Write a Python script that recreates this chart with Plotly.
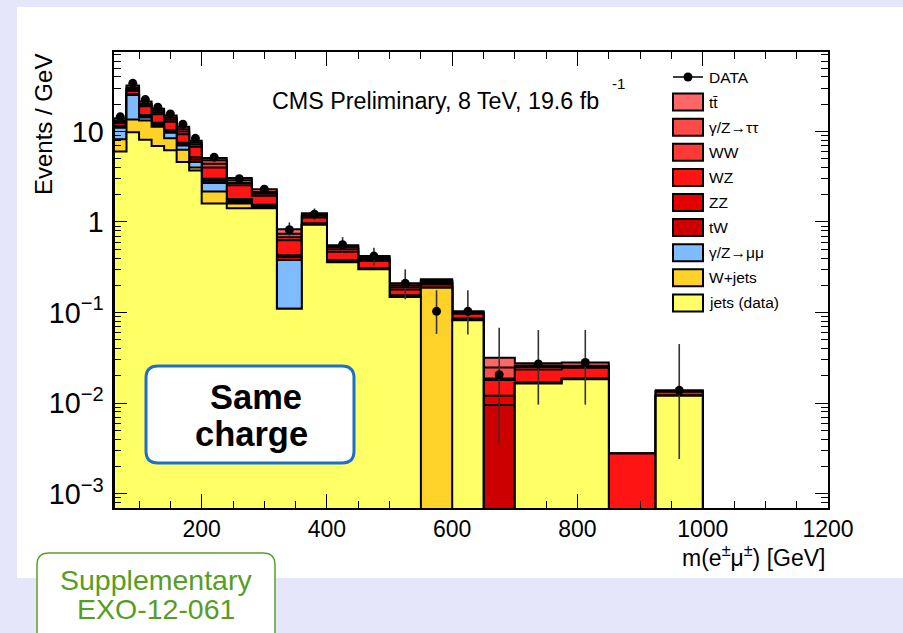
import numpy as np
import plotly.graph_objects as go

# ---------------- data ----------------
edges = [60, 80, 100, 120, 140, 160, 180, 200, 240, 280, 320, 360, 400,
         450, 500, 550, 600, 650, 700, 775, 850, 925, 1000]

# stack components (Events / GeV), bottom -> top
jets_data = [6.0, 9.8, 8.1, 6.9, 6.2, 4.6, 3.7, 1.6, 1.42, 1.42, 0.11, 0.93, 0.36, 0.30,
             0.148, 0, 0.082, 0, 0.0164, 0.0183, 0, 0.0120]
wjets = [2.2, 3.8, 5.1, 4.4, 2.2, 1.7, 0.3, 0.57, 0.18, 0, 0, 0, 0, 0,
         0, 0.188, 0, 0, 0, 0, 0, 0]
dy_mumu = [2.8, 11.7, 1.1, 0.3, 1.3, 0.7, 0.6, 0.53, 0.03, 0.03, 0.27, 0, 0.005, 0,
           0.002, 0, 0, 0, 0, 0, 0, 0]
tw = [0.3, 0.3, 0.5, 0.4, 0.3, 0.3, 0.3, 0.15, 0.07, 0.05, 0.03, 0.02, 0.005, 0.005,
      0.002, 0.017, 0.002, 0.0095, 0.0002, 0.0002, 0, 0]
zz = [0.2, 0.2, 0.4, 0.5, 0.3, 0.2, 0.3, 0.15, 0.1, 0.05, 0.02, 0.02, 0.01, 0.005,
      0.003, 0.005, 0.002, 0.0025, 0.0002, 0.0002, 0, 0]
wz = [0.8, 2.2, 3.8, 3.0, 2.5, 1.8, 1.6, 1.0, 0.75, 0.4, 0.2, 0.15, 0.09, 0.06,
      0.025, 0.005, 0.011, 0.006, 0.0067, 0.0058, 0.00276, 0.0013]
ww = [0.5, 1.5, 0.5, 0.7, 0.7, 0.7, 0.4, 0.4, 0.15, 0.1, 0.05, 0.05, 0.03, 0.02,
      0.01, 0.005, 0.002, 0.0006, 0.0015, 0.0005, 0, 0.0002]
dy_tautau = [0.4, 1.0, 0.8, 0.7, 0.7, 0.6, 0.3, 0.4, 0.2, 0.1, 0.06, 0.04, 0.03, 0.015,
             0.01, 0.005, 0.002, 0.0061, 0.001, 0.0008, 0, 0.0001]
ttbar = [0.8, 1.8, 1.2, 0.9, 0.8, 0.7, 0.4, 0.3, 0.16, 0.15, 0.09, 0.04, 0.025, 0.015,
         0.01, 0.008, 0.002, 0.0069, 0.0015, 0.0022, 0, 0.0002]

data = [14.5, 34.0, 22.5, 18.5, 15.6, 12.0, 8.4, 5.2, 3.0, 2.3, 0.82, 1.22, 0.56, 0.42,
        0.21, 0.103, 0.103, 0.0205, 0.027, 0.028, None, 0.0138]
data_err_lo = [0.84, 1.3, 1.05, 0.95, 0.87, 0.76, 0.64, 0.36, 0.27, 0.24, 0.13, 0.17, 0.10,
               0.09, 0.07, 0.045, 0.046, 0.017, 0.0174, 0.0184, None, 0.0114]
data_err_hi = [0.87, 1.3, 1.08, 0.98, 0.9, 0.79, 0.67, 0.37, 0.28, 0.25, 0.17, 0.19, 0.12,
               0.10, 0.09, 0.073, 0.073, 0.0475, 0.037, 0.036, None, 0.031]

stack_names = ["jets (data)", "W+jets", "γ/Z→μμ", "tW", "ZZ", "WZ", "WW", "γ/Z→ττ", "tt\u0304"]
stack_values = [jets_data, wjets, dy_mumu, tw, zz, wz, ww, dy_tautau, ttbar]
stack_colors = ["#ffff66", "#ffd22a", "#7fbcff", "#cc0000", "#e60000",
                "#ff1414", "#ff3838", "#ff4a4a", "#ff6666"]

# ---------------- geometry helpers (pixel -> paper) ----------------
X0, X1, Y0, Y1 = 114, 828, 52, 508
def px(x):
    return (x - X0) / (X1 - X0)
def py(y):
    return (Y1 - y) / (Y1 - Y0)

FLOOR = 1e-9

def step_polygon(vals):
    xs, ys = [edges[0]], [FLOOR]
    for i, v in enumerate(vals):
        v = v if v > 0 else FLOOR
        xs += [edges[i], edges[i + 1]]
        ys += [v, v]
    xs.append(edges[-1]); ys.append(FLOOR)
    return xs, ys

fig = go.Figure()

cum = np.cumsum(np.array(stack_values, dtype=float), axis=0)
for k in range(len(stack_values) - 1, -1, -1):
    xs, ys = step_polygon(cum[k])
    fig.add_trace(go.Scatter(x=xs, y=ys, mode="lines", fill="toself",
                             fillcolor=stack_colors[k],
                             line=dict(color="black", width=2),
                             hoverinfo="skip", name=stack_names[k]))

centers = [(edges[i] + edges[i + 1]) / 2 for i in range(len(edges) - 1)]
fig.add_trace(go.Scatter(
    x=centers, y=data, mode="markers",
    marker=dict(color="black", size=9, symbol="circle"),
    error_y=dict(type="data", symmetric=False, array=data_err_hi, arrayminus=data_err_lo,
                 color="#333333", thickness=1.6, width=0),
    name="DATA"))

FONT = "Liberation Sans, Arial, Helvetica, sans-serif"

fig.update_layout(
    width=903, height=633,
    margin=dict(l=X0, r=903 - X1, t=Y0, b=633 - Y1),
    paper_bgcolor="#e6e6fa", plot_bgcolor="white",
    showlegend=False,
    font=dict(family=FONT, size=23, color="black"),
)
fig.update_xaxes(
    range=[60, 1200], tickmode="linear", tick0=0, dtick=200,
    ticks="inside", ticklen=14, tickwidth=1.2, tickcolor="black",
    showline=True, linecolor="black", linewidth=1.5, mirror="allticks",
    showgrid=False, zeroline=False, ticklabelstandoff=0,
    tickfont=dict(size=23, family=FONT),
    minor=dict(ticks="inside", ticklen=7, tickwidth=1, tick0=0, dtick=50,
               tickcolor="black", showgrid=False),
)
fig.update_yaxes(
    type="log", range=[-3.16, 1.878], tickmode="linear", tick0=0, dtick=1,
    exponentformat="power",
    ticks="inside", ticklen=13, tickwidth=1.2, tickcolor="black",
    showline=True, linecolor="black", linewidth=1.5, mirror="allticks",
    showgrid=False, zeroline=False, ticklabelstandoff=4,
    tickfont=dict(size=23, family=FONT),
    minor=dict(ticks="inside", ticklen=7, tickwidth=1, dtick="D1",
               tickcolor="black", showgrid=False),
)

shapes = []
annotations = []

# white panel
shapes.append(dict(type="rect", xref="paper", yref="paper", layer="below",
                   x0=px(17), x1=px(910), y0=py(578), y1=py(7),
                   fillcolor="white", line=dict(width=0)))

def rrect_path(x0, y0, x1, y1, r):
    rx = r / (X1 - X0)
    ry = r / (Y1 - Y0)
    a, b, c, d = px(x0), px(x1), py(y0), py(y1)  # c top, d bottom
    return (f"M {a+rx},{c} L {b-rx},{c} Q {b},{c} {b},{c-ry} "
            f"L {b},{d+ry} Q {b},{d} {b-rx},{d} L {a+rx},{d} "
            f"Q {a},{d} {a},{d+ry} L {a},{c-ry} Q {a},{c} {a+rx},{c} Z")

def note(x, y, text, size, xanchor="center", color="black", **kw):
    annotations.append(dict(xref="paper", yref="paper", x=px(x), y=py(y),
                            xanchor=xanchor, yanchor="middle", text=text,
                            showarrow=False,
                            font=dict(size=size, family=FONT, color=color), **kw))

# "Same charge" box
shapes.append(dict(type="path", xref="paper", yref="paper", layer="above",
                   path=rrect_path(146, 366, 354, 463, 12),
                   fillcolor="white", line=dict(color="#1f6fc9", width=3)))
note(256, 397, "<b>Same</b>", 34.5)
note(251, 434, "<b>charge</b>", 34.5)

# Supplementary box
shapes.append(dict(type="path", xref="paper", yref="paper", layer="above",
                   path=rrect_path(37, 553, 275, 660, 12),
                   fillcolor="white", line=dict(color="#5aa02c", width=1.5)))
note(156, 580, "Supplementary", 28.5, color="#569d25")
note(156, 609, "EXO-12-061", 28.5, color="#569d25")

# CMS label
note(270, 101, "CMS Preliminary, 8 TeV, 19.6 fb", 23.3, xanchor="left")
note(610, 83, "-1", 15, xanchor="left")

# axis titles
note(827, 556, "m(e<sup>±</sup>μ<sup>±</sup>) [GeV]", 23, xanchor="right")
note(43, 125, "Events / GeV", 24, textangle=-90)

# legend (manual)
LEG_X0, LEG_X1, LEG_TX = 673, 703, 707
row_y0, row_dy = 77, 25.1
shapes.append(dict(type="line", xref="paper", yref="paper", layer="above",
                   x0=px(LEG_X0), x1=px(LEG_X1), y0=py(row_y0), y1=py(row_y0),
                   line=dict(color="black", width=1.5)))
shapes.append(dict(type="circle", xref="paper", yref="paper", layer="above",
                   x0=px(688 - 4.5), x1=px(688 + 4.5), y0=py(row_y0 + 4.5), y1=py(row_y0 - 4.5),
                   fillcolor="black", line=dict(color="black", width=0)))
note(LEG_TX, row_y0, "DATA", 15.5, xanchor="left")
for j, k in enumerate(range(len(stack_names) - 1, -1, -1)):
    yc = row_y0 + row_dy * (j + 1)
    shapes.append(dict(type="rect", xref="paper", yref="paper", layer="above",
                       x0=px(LEG_X0), x1=px(LEG_X1), y0=py(yc + 8.5), y1=py(yc - 8.5),
                       fillcolor=stack_colors[k], line=dict(color="black", width=2)))
    note(LEG_TX, yc, stack_names[k], 15.5, xanchor="left")

fig.update_layout(shapes=shapes, annotations=annotations)
fig.write_html("out.html")
